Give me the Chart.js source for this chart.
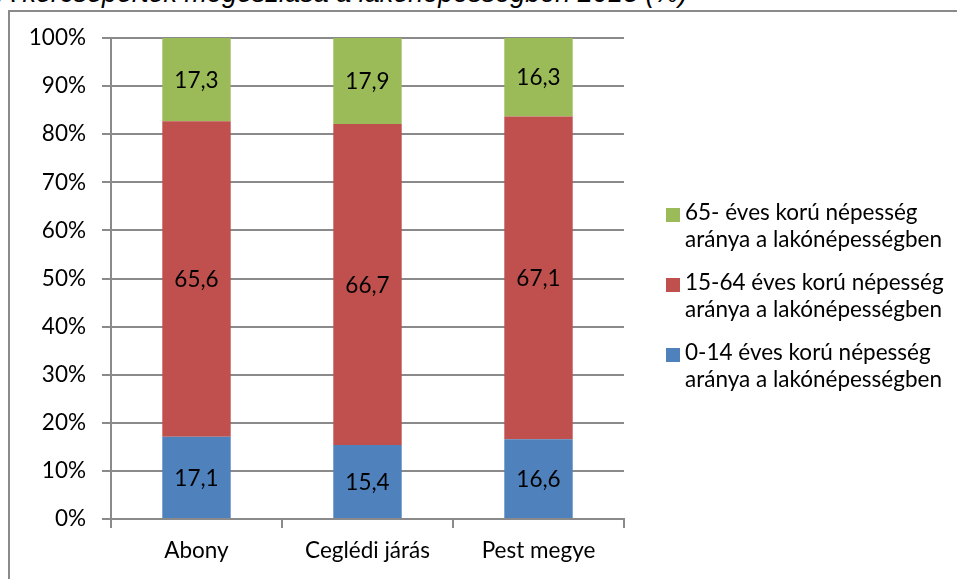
<!DOCTYPE html>
<html>
<head>
<meta charset="utf-8">
<script src="https://cdn.jsdelivr.net/npm/chart.js@4.4.1/dist/chart.umd.min.js"></script>
<style>
  html, body { margin: 0; padding: 0; background: #fff; overflow: hidden; }
  #wrap { position: relative; width: 957px; height: 579px; }
  #title { position: absolute; left: -2px; top: -22px; font: italic 27px "Liberation Sans", Arial, sans-serif; color: #000; white-space: nowrap; }
  #frame { position: absolute; left: 8px; top: 10px; width: 1000px; height: 600px; border: 2px solid #8a8a8a; }
  #chart { position: absolute; left: 0; top: 0; }
  #legend { position: absolute; left: 666px; top: 198px; font: 22.5px Lato, sans-serif; color: #000; }
  .item { position: relative; padding-left: 19px; line-height: 27px; margin-bottom: 16px; }
  .sw { position: absolute; left: 0; top: 10px; width: 14px; height: 14px; }
</style>
</head>
<body>
<div id="wrap">
  <div id="title">A korcsoportok megoszlása a lakónépességben 2013 (%)</div>
  <div id="frame"></div>
  <canvas id="chart" width="957" height="579"></canvas>
  <div id="legend"></div>
</div>
<script>
// categories and series
const categories = ['Abony', 'Ceglédi járás', 'Pest megye'];
const young = [17.1, 15.4, 16.6];   // 0-14
const adult = [65.6, 66.7, 67.1];   // 15-64
const old = [17.3, 17.9, 16.3];     // 65-
const seriesNames = [
  ['0-14 éves korú népesség', 'aránya a lakónépességben'],
  ['15-64 éves korú népesség', 'aránya a lakónépességben'],
  ['65- éves korú népesség', 'aránya a lakónépességben']
];
const colors = ['#4F81BD', '#C0504D', '#9BBB59'];
const yTicks = [0, 10, 20, 30, 40, 50, 60, 70, 80, 90, 100];

const fontFamily = 'Lato, sans-serif';
const fontSize = 22.5;
const gridColor = '#8a8a8a';

// draw the value in the middle of each bar segment
const barLabels = {
  id: 'barLabels',
  afterDatasetsDraw(chart) {
    const ctx = chart.ctx;
    ctx.save();
    ctx.font = fontSize + 'px ' + fontFamily;
    ctx.fillStyle = '#000';
    ctx.textAlign = 'center';
    ctx.textBaseline = 'middle';
    chart.data.datasets.forEach((ds, i) => {
      const meta = chart.getDatasetMeta(i);
      meta.data.forEach((bar, j) => {
        const txt = ds.data[j].toFixed(1).replace('.', ',');
        ctx.fillText(txt, bar.x, (bar.y + bar.base) / 2 + 1);
      });
    });
    ctx.restore();
  }
};

const datasets = [young, adult, old].map((d, i) => ({
  label: seriesNames[i].join(' '),
  data: d,
  backgroundColor: colors[i],
  borderWidth: 0,
  barPercentage: 0.4,
  categoryPercentage: 1.0
}));

const chart = new Chart(document.getElementById('chart'), {
  type: 'bar',
  data: { labels: categories, datasets: datasets },
  options: {
    responsive: false,
    animation: false,
    layout: { padding: { left: 0, right: 333, top: 38, bottom: 0 } },
    plugins: { legend: { display: false }, tooltip: { enabled: false } },
    scales: {
      x: {
        stacked: true,
        grid: { offset: true, drawOnChartArea: false, drawTicks: true, tickLength: 9, color: gridColor, lineWidth: 2 },
        border: { color: gridColor, width: 2 },
        ticks: { color: '#000', font: { family: fontFamily, size: fontSize }, padding: 9 },
        afterFit(scale) { scale.height = 60; }
      },
      y: {
        stacked: true,
        min: 0,
        max: 100,
        afterBuildTicks(scale) { scale.ticks = yTicks.map(v => ({ value: v })); },
        grid: { color: gridColor, lineWidth: 2, tickLength: 9 },
        border: { color: gridColor, width: 2 },
        ticks: {
          color: '#000',
          font: { family: fontFamily, size: fontSize },
          padding: 16,
          callback: v => v + '%'
        },
        afterFit(scale) { scale.width = 111; }
      }
    }
  },
  plugins: [barLabels]
});

// legend, top series first
const legend = document.getElementById('legend');
[2, 1, 0].forEach(i => {
  const item = document.createElement('div');
  item.className = 'item';
  const sw = document.createElement('span');
  sw.className = 'sw';
  sw.style.background = colors[i];
  item.appendChild(sw);
  seriesNames[i].forEach((line, k) => {
    if (k) item.appendChild(document.createElement('br'));
    item.appendChild(document.createTextNode(line));
  });
  legend.appendChild(item);
});
</script>
</body>
</html>
